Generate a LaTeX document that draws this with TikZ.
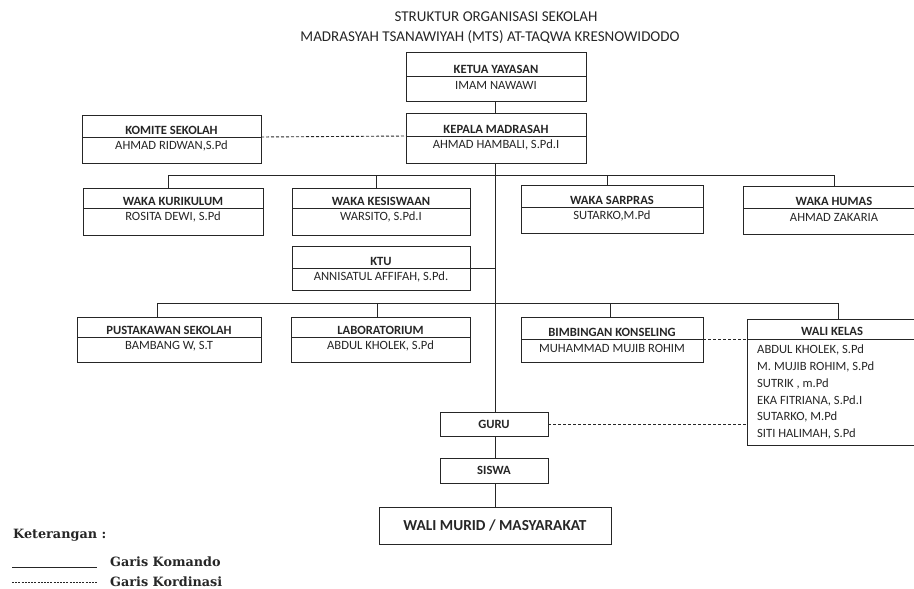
\documentclass[tikz,border=0pt]{standalone}
\usepackage{fontspec}
\setmainfont{Carlito}
\newfontfamily\legendfont{DejaVu Serif}
\definecolor{ink}{HTML}{262626}
\tikzset{
  frame/.style={draw=ink, line width=0.9pt, inner sep=0pt},
  divline/.style={draw=ink, line width=0.9pt},
  titletext/.style={font=\fontsize{12.6}{14}\selectfont\bfseries, text=ink, inner sep=0pt},
  nametext/.style={font=\fontsize{12.6}{14}\selectfont, text=ink, inner sep=0pt},
  cmd/.style={draw=ink, line width=0.9pt},
  coord/.style={draw=ink, line width=0.9pt, dash pattern=on 3pt off 2pt},
  heading/.style={font=\fontsize{15}{17}\selectfont, text=ink, inner sep=0pt},
  plainbox/.style={frame, font=\fontsize{12.6}{14}\selectfont\bfseries, text=ink},
  legtext/.style={font=\legendfont\fontsize{12.8}{14}\selectfont\bfseries, text=ink, inner sep=0pt, anchor=west}
}
% #1 name, #2 left, #3 top, #4 right, #5 bottom, #6 divider y, #7 title, #8 person
\newcommand\orgbox[8]{%
  \node[frame, minimum width={(#4-#2)*1pt}, minimum height={(#5-#3)*1pt}, anchor=north west] (#1) at (#2,#3) {};
  \coordinate (#1-dl) at (#2,#6);
  \coordinate (#1-dr) at (#4,#6);
  \draw[divline] (#1-dl) -- (#1-dr);
  \node[titletext] (#1-t) at ({(#2+#4)/2},{#6-7}) {#7};
  \node[nametext] (#1-n) at ({(#2+#4)/2},{#6+9}) {#8};
}
\begin{document}
\begin{tikzpicture}[x=1pt,y=-1pt]
\useasboundingbox (0,0) rectangle (914,589);
\clip (0,0) rectangle (914,589);
% headings
\node[heading] (h1) at (496,17) {STRUKTUR ORGANISASI SEKOLAH};
\node[heading] (h2) at (490,37) {MADRASYAH TSANAWIYAH (MTS) AT-TAQWA KRESNOWIDODO};
% boxes
\orgbox{ketua}{406}{52}{586}{101}{76}{KETUA YAYASAN}{IMAM NAWAWI}
\orgbox{kepala}{406}{113}{586}{163}{136}{KEPALA MADRASAH}{AHMAD HAMBALI, S.Pd.I}
\orgbox{komite}{82}{115}{261}{163}{137}{KOMITE SEKOLAH}{AHMAD RIDWAN,S.Pd}
\orgbox{kurikulum}{83}{188}{263}{235}{208}{WAKA KURIKULUM}{ROSITA DEWI, S.Pd}
\orgbox{kesiswaan}{292}{188}{470}{235}{208}{WAKA KESISWAAN}{WARSITO, S.Pd.I}
\orgbox{sarpras}{521}{185}{703}{233}{207}{WAKA SARPRAS}{SUTARKO,M.Pd}
\orgbox{humas}{743}{186}{925}{234}{208}{WAKA HUMAS}{AHMAD ZAKARIA}
\orgbox{ktu}{292}{246}{470}{290}{268}{KTU}{ANNISATUL AFFIFAH, S.Pd.}
\orgbox{pustaka}{77}{317}{261}{362}{337}{PUSTAKAWAN SEKOLAH}{BAMBANG W, S.T}
\orgbox{lab}{291}{317}{470}{362}{337}{LABORATORIUM}{ABDUL KHOLEK, S.Pd}
\orgbox{bk}{521}{317}{703}{362}{339}{BIMBINGAN KONSELING}{MUHAMMAD MUJIB ROHIM}
% wali kelas
\node[frame, minimum width=170pt, minimum height=126pt, anchor=north west] (wali) at (747,319) {};
\coordinate (wali-dl) at (747,339);
\coordinate (wali-dr) at (917,339);
\draw[divline] (wali-dl) -- (wali-dr);
\node[titletext] (wali-t) at (832,331) {WALI KELAS};
\node[nametext, anchor=west] (wali-1) at (757,350) {ABDUL KHOLEK, S.Pd};
\node[nametext, anchor=west] (wali-2) at (757,367) {M. MUJIB ROHIM, S.Pd};
\node[nametext, anchor=west] (wali-3) at (757,384) {SUTRIK , m.Pd};
\node[nametext, anchor=west] (wali-4) at (757,401) {EKA FITRIANA, S.Pd.I};
\node[nametext, anchor=west] (wali-5) at (757,417) {SUTARKO, M.Pd};
\node[nametext, anchor=west] (wali-6) at (757,434) {SITI HALIMAH, S.Pd};
% guru, siswa, wali murid
\node[plainbox, minimum width=108pt, minimum height=24pt] (guru) at (494,424) {GURU};
\node[plainbox, minimum width=108pt, minimum height=25pt] (siswa) at (494,470.5) {SISWA};
\node[frame, minimum width=232pt, minimum height=37pt, font=\fontsize{15.3}{17}\selectfont\bfseries, text=ink] (murid) at (495,525.5) {WALI MURID / MASYARAKAT};
% bus coordinates
\coordinate (bus1) at (495,175);
\coordinate (bus2) at (495,303);
% command lines
\draw[cmd] (ketua.south -| bus1) -- (kepala.north -| bus1);
\draw[cmd] (kepala.south -| bus1) -- (guru.north -| bus1);
\draw[cmd] (guru.south -| bus1) -- (siswa.north -| bus1);
\draw[cmd] (siswa.south -| bus1) -- (murid.north -| bus1);
\draw[cmd] ([xshift=-5pt]kurikulum.north) |- (bus1);
\draw[cmd] ([xshift=-5pt]kesiswaan.north) |- (bus1);
\draw[cmd] ([xshift=-5pt]sarpras.north) |- (bus1);
\draw[cmd] (humas.north) |- (bus1);
\draw[cmd] (ktu-dr) -- (ktu-dr -| bus1);
\draw[cmd] ([xshift=-12pt]pustaka.north) |- (bus2);
\draw[cmd] ([xshift=-4pt]lab.north) |- (bus2);
\draw[cmd] ([xshift=-2pt]bk.north) |- (bus2);
\draw[cmd] ([xshift=6pt]wali.north) |- (bus2);
% coordination lines
\draw[coord] (komite-dr) -- (kepala-dl);
\draw[coord] (bk-dr) -- (wali-dl);
\draw[coord] (guru.east) -- (guru.east -| wali.west);
% legend
\node[legtext] (ket) at (13,535) {Keterangan :};
\coordinate (lk1) at (12,567);
\coordinate (lk2) at (97,567);
\draw[draw=ink, line width=0.6pt] (lk1) -- (lk2);
\node[legtext] (kom) at (110,562) {Garis Komando};
\coordinate (lc1) at (12,582);
\coordinate (lc2) at (97,582);
\draw[draw=ink, line width=0.6pt, dash pattern=on 2pt off 1.2pt] (lc1) -- (lc2);
\node[legtext] (kor) at (110,582) {Garis Kordinasi};
\end{tikzpicture}
\end{document}
